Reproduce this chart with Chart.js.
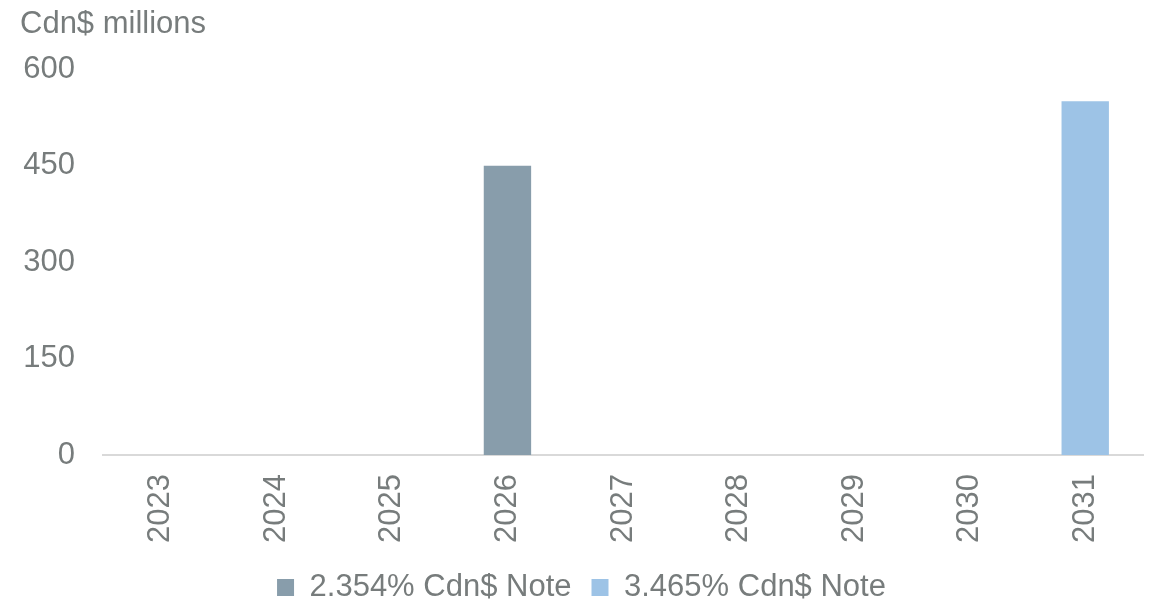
<!DOCTYPE html>
<html>
<head>
<meta charset="utf-8">
<script src="https://cdn.jsdelivr.net/npm/chart.js@4"></script>
<style>
  html, body { margin: 0; padding: 0; background: #fff; }
  #wrap { width: 1155px; height: 603px; }
</style>
</head>
<body>
<div id="wrap"><canvas id="chart"></canvas></div>
<script>
const years = ["2023", "2024", "2025", "2026", "2027", "2028", "2029", "2030", "2031"];
const note2354 = [null, null, null, 450, null, null, null, null, null];
const note3465 = [null, null, null, null, null, null, null, null, 550];
const yTicks = [0, 150, 300, 450, 600];

const grey = "#777c7c";
const font = { family: "'Liberation Sans', Arial, sans-serif", size: 31, weight: "normal" };

new Chart(document.getElementById("chart"), {
  type: "bar",
  data: {
    labels: years,
    datasets: [
      {
        label: "2.354% Cdn$ Note",
        data: note2354,
        backgroundColor: "#889dab",
        barPercentage: 0.41,
        categoryPercentage: 1,
      },
      {
        label: "3.465% Cdn$ Note",
        data: note3465,
        backgroundColor: "#9dc3e6",
        barPercentage: 0.41,
        categoryPercentage: 1,
      },
    ],
  },
  options: {
    responsive: true,
    maintainAspectRatio: false,
    animation: false,
    layout: { padding: { left: 20, right: 12, top: 6, bottom: -10 } },
    plugins: {
      title: {
        display: true,
        text: "Cdn$ millions",
        align: "start",
        color: grey,
        font: font,
        padding: { top: 0, bottom: 26 },
      },
      legend: {
        position: "bottom",
        labels: {
          color: grey,
          font: font,
          boxWidth: 17,
          boxHeight: 17,
          padding: 20,
        },
      },
      tooltip: { enabled: false },
    },
    scales: {
      x: {
        stacked: true,
        grid: { display: false, drawTicks: false },
        border: { display: true, color: "#d9d9d9", width: 2 },
        ticks: {
          color: grey,
          font: font,
          minRotation: 90,
          maxRotation: 90,
          padding: 19,
        },
        afterFit: (axis) => {
          axis.height -= 10;
        },
      },
      y: {
        stacked: false,
        min: yTicks[0],
        max: yTicks[yTicks.length - 1],
        afterBuildTicks: (axis) => {
          axis.ticks = yTicks.map((v) => ({ value: v }));
        },
        afterFit: (axis) => {
          axis.width = 83;
        },
        grid: { display: false, drawTicks: false },
        border: { display: false },
        ticks: {
          color: grey,
          font: font,
          padding: 28,
        },
      },
    },
  },
});
</script>
</body>
</html>
